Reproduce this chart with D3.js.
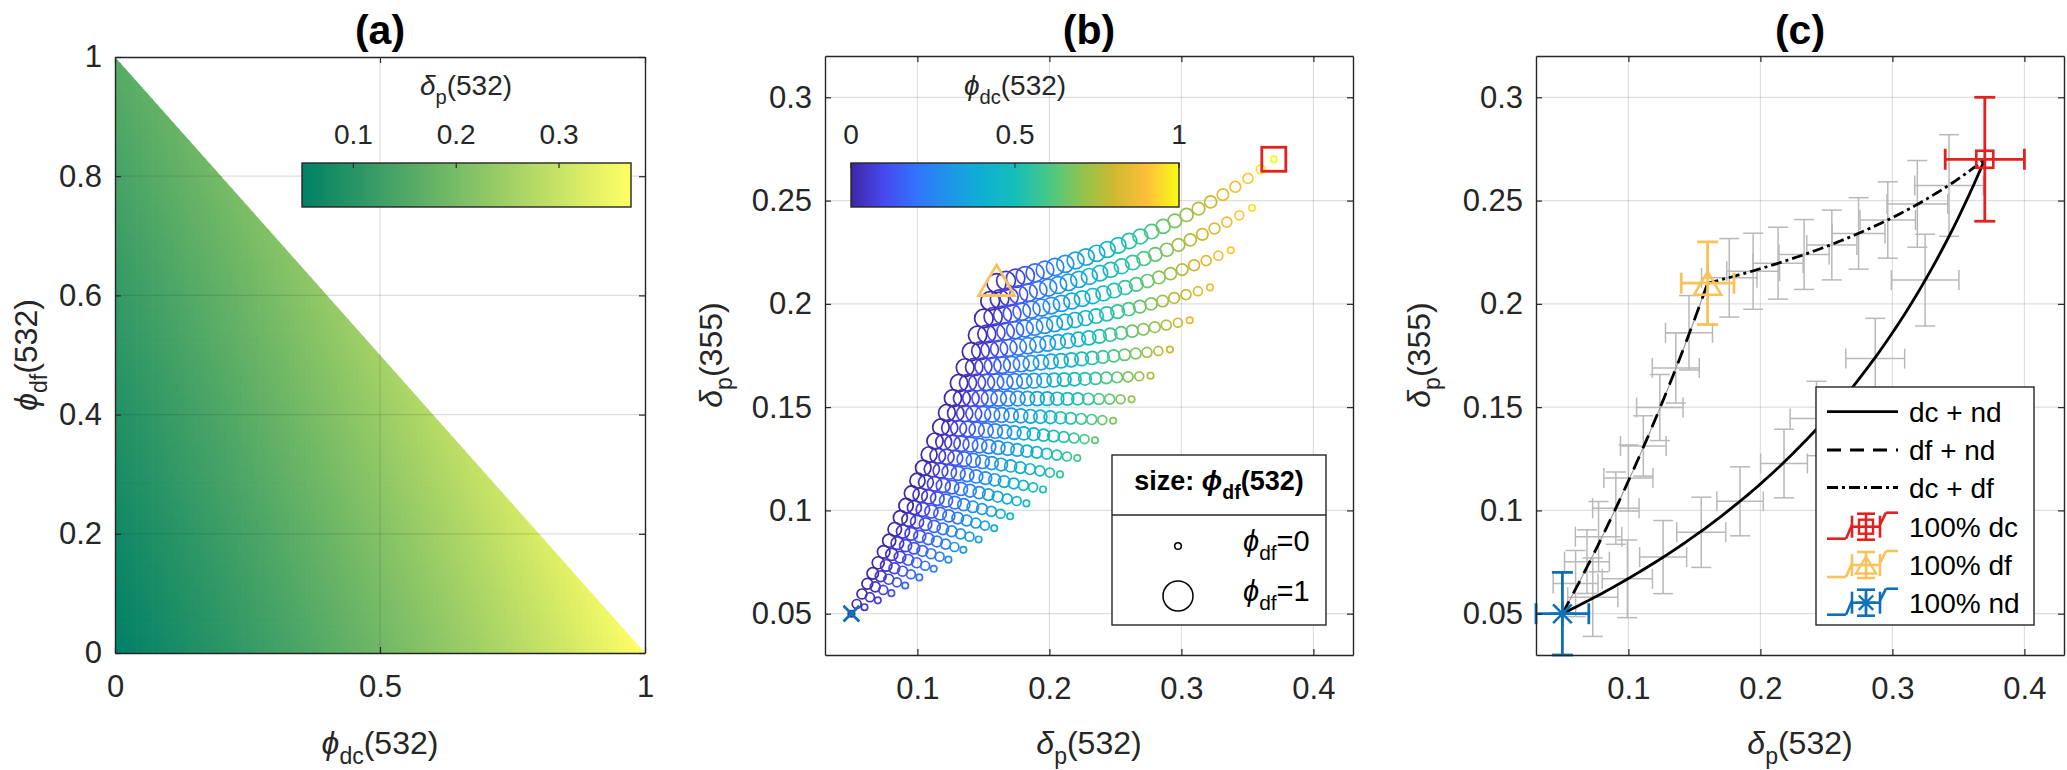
<!DOCTYPE html>
<html><head><meta charset="utf-8">
<script src="https://cdn.jsdelivr.net/npm/d3@7"></script>
<style>
body{margin:0;background:#fff}
text{font-family:"Liberation Sans",Arial,"DejaVu Sans",sans-serif}
</style>
</head><body>
<svg id="fig" width="2067" height="770" xmlns="http://www.w3.org/2000/svg"></svg>
<script>
// ---------------- DATA ----------------
const components      = ["dc", "df", "nd"];
const depol532        = [0.37, 0.16, 0.05];   // end-member δp(532)
const depol355        = [0.27, 0.21, 0.05];   // end-member δp(355)
const backscatter355  = [0.42, 0.84, 1.00];   // relative 355/532 backscatter weight
const endErr532       = [0.03, 0.02, 0.02];
const endErr355       = [0.03, 0.02, 0.02];
const endColors       = ["#E3211E", "#FAC35A", "#0F70B7"];
const fractionSteps   = [0,0.04,0.08,0.12,0.16,0.2,0.24,0.28,0.32,0.36,0.4,0.44,0.48,0.52,0.56,0.6,0.64,0.68,0.72,0.76,0.8,0.84,0.88,0.92,0.96,1];

const dcdfX    = [0.1764,0.1945,0.2134,0.2331,0.2541,0.2744,0.2965,0.3189,0.3429];
const dcdfY    = [0.2126,0.2158,0.2197,0.2239,0.2285,0.2341,0.2406,0.2484,0.2573];
const dcdfXErr = [0.021,0.020,0.019,0.019,0.019,0.020,0.021,0.023,0.026];
const dcdfYErr = [0.019,0.0184,0.0174,0.0169,0.0169,0.0173,0.0185,0.021,0.0246];

const dcndX    = [0.073,0.0992,0.1263,0.1552,0.1846,0.2179,0.2425,0.2870,0.3248];
const dcndY    = [0.058,0.0669,0.0774,0.0894,0.1044,0.1227,0.1445,0.1735,0.2115];
const dcndXErr = [0.019,0.019,0.0178,0.0186,0.0176,0.0177,0.020,0.0223,0.0256];
const dcndYErr = [0.019,0.0188,0.0177,0.017,0.0167,0.0166,0.018,0.0195,0.0222];

const dfndX    = [0.060,0.0686,0.0774,0.0905,0.100,0.1113,0.1238,0.1359,0.1459];
const dfndY    = [0.0646,0.0752,0.0873,0.1011,0.1157,0.1312,0.1498,0.169,0.186];
const dfndXErr = [0.017,0.017,0.0176,0.0176,0.0186,0.0173,0.0176,0.0178,0.0178];
const dfndYErr = [0.016,0.0154,0.017,0.0175,0.016,0.0146,0.016,0.017,0.018];

const xTicksA  = [0, 0.5, 1];
const yTicksA  = [0, 0.2, 0.4, 0.6, 0.8, 1];
const xTicksBC = [0.1, 0.2, 0.3, 0.4];
const yTicksBC = [0.05, 0.1, 0.15, 0.2, 0.25, 0.3];
const cbTicksA = [0.1, 0.2, 0.3];
const cbTicksB = [0, 0.5, 1];
const legendC  = ["dc + nd", "df + nd", "dc + df", "100% dc", "100% df", "100% nd"];

// colormaps
const summerStops = ["rgb(0,128,102)", "rgb(255,255,102)"];
const parulaStops = ["rgb(62,38,168)","rgb(71,72,238)","rgb(50,115,252)","rgb(30,150,232)","rgb(15,175,212)",
                     "rgb(20,190,185)","rgb(70,200,135)","rgb(140,196,80)","rgb(205,185,48)","rgb(252,190,58)","rgb(249,251,20)"];

// ---------------- HELPERS ----------------
const svg = d3.select("#fig");
const INK = "#262626";
const summer = d3.piecewise(d3.interpolateRgb, summerStops);
const parula = d3.piecewise(d3.interpolateRgb, parulaStops);

function mix(phi) {
  let n5 = 0, d5 = 0, ks = 0;
  phi.forEach((p, i) => { n5 += p * depol532[i] / (1 + depol532[i]); d5 += p / (1 + depol532[i]); ks += p * backscatter355[i]; });
  let n3 = 0, d3s = 0;
  phi.forEach((p, i) => { const w = p * backscatter355[i] / ks; n3 += w * depol355[i] / (1 + depol355[i]); d3s += w / (1 + depol355[i]); });
  return [n5 / d5, n3 / d3s];
}

function rich(g, parts, o) {
  const t = g.append("text").attr("x", o.x).attr("y", o.y).attr("font-size", o.size)
    .attr("text-anchor", o.anchor || "middle").attr("fill", o.fill || "#000")
    .attr("font-weight", o.weight || "normal");
  if (o.rotate) t.attr("transform", `rotate(-90 ${o.x} ${o.y})`);
  let shift = 0;
  parts.forEach(p => {
    const s = t.append("tspan").text(p.t);
    if (p.sub) { s.attr("font-size", o.size * 0.72).attr("dy", o.size * 0.32 - shift); shift = o.size * 0.32; }
    else if (shift) { s.attr("dy", -shift); shift = 0; }
    if (p.it) s.attr("font-style", "italic");
  });
  return t;
}
const PHI = "\u03D5", DEL = "\u03B4";

function grid(g, x, y, xt, yt) {
  const gg = g.append("g");
  gg.selectAll("line.gx").data(xt).join("line").attr("class", "gx")
    .attr("x1", d => x(d)).attr("x2", d => x(d)).attr("y1", y.range()[0]).attr("y2", y.range()[1]);
  gg.selectAll("line.gy").data(yt).join("line").attr("class", "gy")
    .attr("y1", d => y(d)).attr("y2", d => y(d)).attr("x1", x.range()[0]).attr("x2", x.range()[1]);
  gg.selectAll("line").attr("stroke", INK).attr("stroke-opacity", 0.15).attr("stroke-width", 1.2);
}

function frame(g, x, y, xt, yt) {
  const [x0, x1] = x.range(), [y0, y1] = y.range();
  const style = sel => {
    sel.attr("font-size", null).attr("font-family", null);
    sel.select(".domain").attr("stroke", INK).attr("stroke-width", 1.4);
    sel.selectAll(".tick line").attr("stroke", INK).attr("stroke-width", 1.2);
    sel.selectAll(".tick text").attr("font-size", 31).attr("fill", INK);
  };
  g.append("g").attr("transform", `translate(0,${y0})`)
    .call(d3.axisBottom(x).tickValues(xt).tickFormat(d => String(d)).tickSizeInner(-6).tickSizeOuter(0).tickPadding(22)).call(style);
  g.append("g").attr("transform", `translate(0,${y1})`)
    .call(d3.axisTop(x).tickValues(xt).tickFormat("").tickSizeInner(-6).tickSizeOuter(0)).call(style);
  g.append("g").attr("transform", `translate(${x0},0)`)
    .call(d3.axisLeft(y).tickValues(yt).tickFormat(d => String(d)).tickSizeInner(-6).tickSizeOuter(0).tickPadding(13)).call(style);
  g.append("g").attr("transform", `translate(${x1},0)`)
    .call(d3.axisRight(y).tickValues(yt).tickFormat("").tickSizeInner(-6).tickSizeOuter(0)).call(style);
}

function colorbar(g, id, interp, scale, ticks, x0, x1, y0, y1) {
  const grad = svg.select("defs").append("linearGradient").attr("id", id);
  d3.range(0, 1.0001, 0.05).forEach(t => grad.append("stop").attr("offset", t).attr("stop-color", interp(t)));
  g.append("rect").attr("x", x0).attr("y", y0).attr("width", x1 - x0).attr("height", y1 - y0)
    .attr("fill", `url(#${id})`).attr("stroke", INK).attr("stroke-width", 1.4);
  ticks.forEach(t => {
    g.append("line").attr("x1", scale(t)).attr("x2", scale(t)).attr("y1", y0).attr("y2", y0 + 5).attr("stroke", INK).attr("stroke-width", 1.2);
    g.append("text").attr("x", scale(t)).attr("y", y0 - 19).attr("text-anchor", "middle").attr("font-size", 28).attr("fill", INK).text(String(t));
  });
}

function errbar(g, x, y, cx, cy, ex, ey, color, lw, cap) {
  const h = cap / 2;
  const segs = [
    [x(cx), y(cy - ey), x(cx), y(cy + ey)],
    [x(cx) - h, y(cy - ey), x(cx) + h, y(cy - ey)],
    [x(cx) - h, y(cy + ey), x(cx) + h, y(cy + ey)],
    [x(cx - ex), y(cy), x(cx + ex), y(cy)],
    [x(cx - ex), y(cy) - h, x(cx - ex), y(cy) + h],
    [x(cx + ex), y(cy) - h, x(cx + ex), y(cy) + h]
  ];
  segs.forEach(s => g.append("line").attr("x1", s[0]).attr("y1", s[1]).attr("x2", s[2]).attr("y2", s[3])
    .attr("stroke", color).attr("stroke-width", lw));
}

function marker(g, type, px, py, color, size, lw) {
  const h = size / 2;
  if (type === "square") {
    g.append("rect").attr("x", px - h).attr("y", py - h).attr("width", size).attr("height", size)
      .attr("fill", "none").attr("stroke", color).attr("stroke-width", lw);
  } else if (type === "triangle") {
    const hh = size * 0.85 / 2;
    g.append("path").attr("d", `M${px},${py - hh}L${px + h},${py + hh}L${px - h},${py + hh}Z`)
      .attr("fill", "none").attr("stroke", color).attr("stroke-width", lw).attr("stroke-linejoin", "miter");
  } else if (type === "x" || type === "asterisk") {
    const d = h * 0.72;
    let p = `M${px - d},${py - d}L${px + d},${py + d}M${px - d},${py + d}L${px + d},${py - d}`;
    if (type === "asterisk") p += `M${px},${py - h}L${px},${py + h}M${px - h},${py}L${px + h},${py}`;
    g.append("path").attr("d", p).attr("fill", "none").attr("stroke", color).attr("stroke-width", lw);
  }
}

svg.append("defs");

// ================= PANEL (a) =================
const xa = d3.scaleLinear([0, 1], [115, 645]);
const ya = d3.scaleLinear([0, 1], [653, 57]);
const gA = svg.append("g");
svg.select("defs").append("clipPath").attr("id", "triClip").append("path")
  .attr("d", `M${xa(0)},${ya(0)}L${xa(1)},${ya(0)}L${xa(0)},${ya(1)}Z`);
const dMin = depol532[2], dMax = depol532[0];
const cellGrid = d3.range(0, 100).map(i => i / 100);
const cells = [];
cellGrid.forEach(dc => cellGrid.forEach(df => { if (dc + df <= 1.0001) cells.push({ dc, df }); }));
gA.append("g").attr("clip-path", "url(#triClip)").selectAll("rect").data(cells).join("rect")
  .attr("x", d => xa(d.dc)).attr("y", d => ya(d.df + 0.01))
  .attr("width", xa(0.01) - xa(0) + 0.7).attr("height", ya(0) - ya(0.01) + 0.7)
  .attr("fill", d => {
    const c = d.dc + 0.005, f = d.df + 0.005, n = Math.max(0, 1 - c - f);
    return summer((mix([c, f, n])[0] - dMin) / (dMax - dMin));
  });
grid(gA, xa, ya, [0.5], [0.2, 0.4, 0.6, 0.8]);
frame(gA, xa, ya, xTicksA, yTicksA);
const cbA = d3.scaleLinear([dMin, dMax], [302, 631]);
colorbar(gA, "gradA", summer, cbA, cbTicksA, 302, 631, 163, 207);
rich(gA, [{ t: DEL, it: true }, { t: "p", sub: true }, { t: "(532)" }], { x: 466, y: 95, size: 28, fill: INK });
rich(gA, [{ t: "(a)" }], { x: 380, y: 44, size: 41, weight: "bold" });
rich(gA, [{ t: PHI, it: true }, { t: "dc", sub: true }, { t: "(532)" }], { x: 380, y: 754, size: 32, fill: INK });
rich(gA, [{ t: PHI, it: true }, { t: "df", sub: true }, { t: "(532)" }], { x: 37, y: 355, size: 32, rotate: true, fill: INK });

// ================= PANEL (b) =================
const xb = d3.scaleLinear([0.03, 0.43], [825, 1353]);
const yb = d3.scaleLinear([0.03, 0.32], [655, 56]);
const gB = svg.append("g");
grid(gB, xb, yb, xTicksBC, yTicksBC);
const pts = [];
fractionSteps.forEach(nd => {
  fractionSteps.forEach(dc => {
    if (dc + nd <= 1.0001) {
      const df = Math.max(0, 1 - nd - dc);
      const [d5, d3v] = mix([dc, df, nd]);
      pts.push({ dc, df, nd, x: d5, y: d3v });
    }
  });
});
gB.append("g").selectAll("circle").data(pts).join("circle")
  .attr("cx", d => xb(d.x)).attr("cy", d => yb(d.y))
  .attr("r", d => 3.2 + 6.3 * Math.sqrt(d.df))
  .attr("fill", "none").attr("stroke", d => parula(d.dc)).attr("stroke-width", 1.7);
marker(gB, "square", xb(depol532[0]), yb(depol355[0]), endColors[0], 24, 2.8);
marker(gB, "triangle", xb(depol532[1]), yb(depol355[1]) - 3, endColors[1], 36, 2.8);
marker(gB, "x", xb(depol532[2]), yb(depol355[2]), endColors[2], 22, 2.8);
frame(gB, xb, yb, xTicksBC, yTicksBC);
const cbB = d3.scaleLinear([0, 1], [851, 1179]);
colorbar(gB, "gradB", parula, cbB, cbTicksB, 851, 1179, 163, 207);
rich(gB, [{ t: PHI, it: true }, { t: "dc", sub: true }, { t: "(532)" }], { x: 1015, y: 95, size: 28, fill: INK });
rich(gB, [{ t: "(b)" }], { x: 1089, y: 44, size: 41, weight: "bold" });
rich(gB, [{ t: DEL, it: true }, { t: "p", sub: true }, { t: "(532)" }], { x: 1089, y: 754, size: 32, fill: INK });
rich(gB, [{ t: DEL, it: true }, { t: "p", sub: true }, { t: "(355)" }], { x: 722, y: 355, size: 32, rotate: true, fill: INK });
// size legend
const lgB = gB.append("g");
lgB.append("rect").attr("x", 1112).attr("y", 455).attr("width", 214).attr("height", 170)
  .attr("fill", "#fff").attr("stroke", INK).attr("stroke-width", 1.4);
lgB.append("line").attr("x1", 1112).attr("x2", 1326).attr("y1", 515).attr("y2", 515).attr("stroke", INK).attr("stroke-width", 1.4);
rich(lgB, [{ t: "size: " }, { t: PHI, it: true }, { t: "df", sub: true }, { t: "(532)" }], { x: 1219, y: 490, size: 27, weight: "bold" });
const sizeLegend = [0, 1];
sizeLegend.forEach((v, i) => {
  const cy = 546 + i * 50;
  lgB.append("circle").attr("cx", 1178).attr("cy", cy).attr("r", v === 0 ? 3.3 : 15)
    .attr("fill", "none").attr("stroke", "#000").attr("stroke-width", 1.5);
  rich(lgB, [{ t: PHI, it: true }, { t: "df", sub: true }, { t: "=" + v }], { x: 1243, y: cy + 5, size: 29, anchor: "start" });
});

// ================= PANEL (c) =================
const xc = d3.scaleLinear([0.03, 0.43], [1536, 2064]);
const yc = d3.scaleLinear([0.03, 0.32], [655, 56]);
const gC = svg.append("g");
grid(gC, xc, yc, xTicksBC, yTicksBC);
const GREY = "#b9b9b9";
[[dcdfX, dcdfY, dcdfXErr, dcdfYErr], [dcndX, dcndY, dcndXErr, dcndYErr], [dfndX, dfndY, dfndXErr, dfndYErr]]
  .forEach(([X, Y, EX, EY]) => X.forEach((v, i) => errbar(gC, xc, yc, v, Y[i], EX[i], EY[i], GREY, 1.5, 20)));
const curveSteps = d3.range(0, 1.00001, 0.01);
const line = d3.line().x(d => xc(d[0])).y(d => yc(d[1]));
const curveDcNd = curveSteps.map(f => mix([f, 0, 1 - f]));
const curveDfNd = curveSteps.map(f => mix([0, f, 1 - f]));
const curveDcDf = curveSteps.map(f => mix([f, 1 - f, 0]));
gC.append("path").attr("d", line(curveDfNd)).attr("fill", "none").attr("stroke", "#9a9a9a").attr("stroke-width", 1.2);
gC.append("path").attr("d", line(curveDcNd)).attr("fill", "none").attr("stroke", "#000").attr("stroke-width", 2.8);
gC.append("path").attr("d", line(curveDfNd)).attr("fill", "none").attr("stroke", "#000").attr("stroke-width", 2.8).attr("stroke-dasharray", "14,9");
gC.append("path").attr("d", line(curveDcDf)).attr("fill", "none").attr("stroke", "#000").attr("stroke-width", 2.8).attr("stroke-dasharray", "11,4,3,4");
const mTypes = ["square", "triangle", "asterisk"];
const mSizes = [17, 27, 26];
components.forEach((c, i) => {
  errbar(gC, xc, yc, depol532[i], depol355[i], endErr532[i], endErr355[i], endColors[i], 2.8, 21);
  marker(gC, mTypes[i], xc(depol532[i]), yc(depol355[i]), endColors[i], mSizes[i], 2.6);
});
frame(gC, xc, yc, xTicksBC, yTicksBC);
rich(gC, [{ t: "(c)" }], { x: 1800, y: 44, size: 41, weight: "bold" });
rich(gC, [{ t: DEL, it: true }, { t: "p", sub: true }, { t: "(532)" }], { x: 1800, y: 754, size: 32, fill: INK });
rich(gC, [{ t: DEL, it: true }, { t: "p", sub: true }, { t: "(355)" }], { x: 1430, y: 355, size: 32, rotate: true, fill: INK });
// legend (c)
const lgC = gC.append("g");
lgC.append("rect").attr("x", 1816).attr("y", 387).attr("width", 218).attr("height", 238)
  .attr("fill", "#fff").attr("stroke", INK).attr("stroke-width", 1.4);
const rowY = [411.7, 450, 487.5, 526.7, 565, 602.7];
const dashes = [null, "14,9", "11,4,3,4"];
legendC.forEach((label, i) => {
  const cy = rowY[i];
  if (i < 3) {
    const l = lgC.append("line").attr("x1", 1827).attr("x2", 1898).attr("y1", cy).attr("y2", cy)
      .attr("stroke", "#000").attr("stroke-width", 2.8);
    if (dashes[i]) l.attr("stroke-dasharray", dashes[i]);
  } else {
    const k = i - 3, col = endColors[k], cx = 1866;
    const segs = [[1827, cy + 12, 1846, cy + 12], [1846, cy + 12, 1852, cy - 2], [1852, cy - 11, 1852, cy + 11],
                  [1880, cy - 11, 1880, cy + 11], [1852, cy, 1880, cy], [cx, cy - 13, cx, cy + 13],
                  [cx - 9, cy - 13, cx + 9, cy - 13], [cx - 9, cy + 13, cx + 9, cy + 13],
                  [1880, cy - 2, 1886, cy - 14], [1886, cy - 14, 1898, cy - 14]];
    segs.forEach(s => lgC.append("line").attr("x1", s[0]).attr("y1", s[1]).attr("x2", s[2]).attr("y2", s[3])
      .attr("stroke", col).attr("stroke-width", 2.6));
    marker(lgC, mTypes[k], cx, cy, col, [14, 20, 20][k], 2.4);
  }
  lgC.append("text").attr("x", 1909).attr("y", cy + 10).attr("font-size", 28).attr("fill", "#000").text(label);
});
</script>
</body></html>
